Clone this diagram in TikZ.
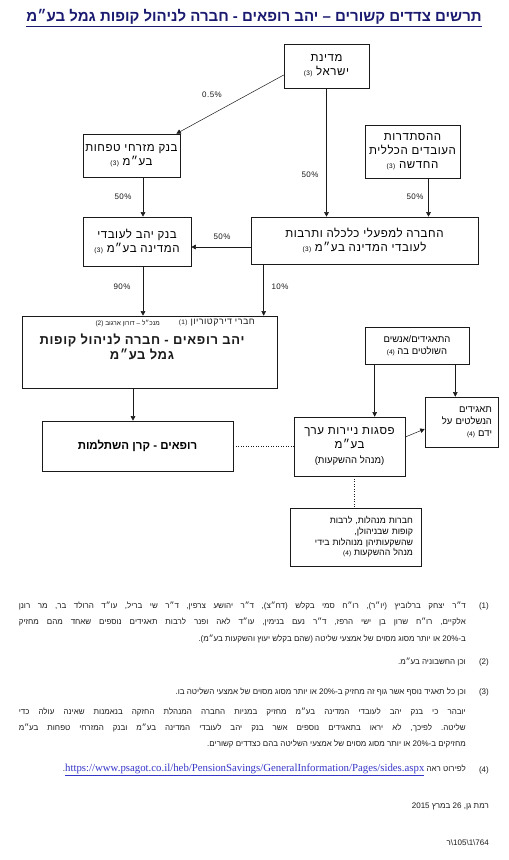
\documentclass[tikz,border=0pt]{standalone}
\usepackage{fontspec}
\setmainfont{Liberation Sans}
\newfontfamily\hebfont[Script=Hebrew]{Liberation Sans}
\newfontfamily\hebwide[Script=Hebrew,LetterSpace=5]{Liberation Sans}
\newfontfamily\pctfont[LetterSpace=6]{Liberation Sans}
\newfontfamily\urlfont{Liberation Serif}
\TeXXeTstate=1
\frenchspacing
\usetikzlibrary{arrows.meta,calc}
\definecolor{inkc}{HTML}{1A1A1A}
\definecolor{titlec}{HTML}{1A1A70}
\definecolor{linkc}{HTML}{3535C8}
\newcommand{\hebfam}{\hebfont}
\newcommand{\heb}[1]{{\hebfam\beginR #1\endR}}
\newcommand{\nt}[1]{\beginL{\fontsize{6.5}{7}\selectfont(#1)}\endL}
\tikzset{
  box/.style ={draw=inkc,line width=.6pt,fill=white,inner xsep=1pt,inner ysep=2pt,align=center,
               font=\fontsize{11.5}{14}\selectfont\let\hebfam\hebwide},
  sbox/.style={box,font=\fontsize{9.5}{12}\selectfont\let\hebfam\hebfont},
  ttl/.style ={font=\fontsize{15}{17}\selectfont\bfseries,text=titlec,inner sep=0pt},
  bigt/.style={font=\fontsize{13}{14.5}\selectfont\bfseries\let\hebfam\hebwide,text=inkc,align=center,inner sep=0pt},
  pct/.style ={font=\pctfont\fontsize{8}{9}\selectfont,text=inkc,inner sep=0pt},
  note/.style={font=\fontsize{8}{10}\selectfont\frenchspacing,text=inkc,inner sep=0pt},
  ar/.style  ={-{Triangle[length=4.5pt,width=4.5pt]},draw=inkc,line width=.5pt},
  dotl/.style={draw=inkc,line width=.5pt,dotted},
}

\begin{document}
\begin{tikzpicture}[x=1pt,y=-1pt]
\useasboundingbox (0,0) rectangle (509,860);

\node[ttl] (title) at (254,18)
  {\underline{\heb{תרשים צדדים קשורים – יהב רופאים - חברה לניהול קופות גמל בע״מ}}};

% ---------- holders ----------
\node[box,minimum width=85,minimum height=44] (state) at (326.5,66)
  {\heb{מדינת}\\\heb{ישראל \nt{3}}};
\node[box,minimum width=97,minimum height=43] (mizrahi) at (131.5,155.5)
  {\heb{בנק מזרחי טפחות}\\\heb{בע״מ \nt{3}}};
\node[box,minimum width=95,minimum height=53] (hist) at (412.5,151.5)
  {\heb{ההסתדרות}\\\heb{העובדים הכללית}\\\heb{החדשה \nt{3}}};
\node[box,minimum width=108,minimum height=49] (yahavbank) at (137,241.5)
  {\heb{בנק יהב לעובדי}\\\heb{המדינה בע״מ \nt{3}}};
\node[box,minimum width=227,minimum height=47] (chevra) at (364.5,240.5)
  {\heb{החברה למפעלי כלכלה ותרבות}\\\heb{לעובדי המדינה בע״מ \nt{3}}};

% ---------- the company ----------
\node[box,minimum width=255,minimum height=72] (main) at (149.5,352) {};
\node[note,anchor=north east,font=\fontsize{9}{10}\selectfont\let\hebfam\hebwide] (dirs) at (255,319)
  {\heb{חברי דירקטוריון \nt{1}}};
\node[note,anchor=north east,font=\fontsize{6.5}{8}\selectfont] (ceo) at (160,320)
  {\heb{מנכ״ל – דורון ארגוב \nt{2}}};
\node[bigt] (mainname) at (142,347)
  {\heb{יהב רופאים - חברה לניהול קופות}\\\heb{גמל בע״מ}};
\node[box,minimum width=191,minimum height=50,font=\fontsize{11.5}{13}\selectfont\bfseries] (keren) at (137.5,446)
  {\heb{רופאים - קרן השתלמות}};

% ---------- investment manager ----------
\node[box,minimum width=111,minimum height=59] (psagot) at (349.5,446.5)
  {\heb{פסגות ניירות ערך}\\\heb{בע״מ}\\[1pt]{\fontsize{9.5}{11}\selectfont\let\hebfam\hebfont\heb{(מנהל ההשקעות)}}};
\node[sbox,minimum width=104,minimum height=37] (controllers) at (417,345.5)
  {\heb{התאגידים/אנשים}\\\heb{השולטים בה \nt{4}}};
\node[sbox,minimum width=73,minimum height=50,align=right,inner xsep=6pt,text width=61] (controlled) at (461.5,422)
  {\heb{תאגידים}\\\heb{הנשלטים על}\\\heb{ידם \nt{4}}};
\node[sbox,minimum width=131,minimum height=58,align=right,inner xsep=8pt,text width=115,font=\fontsize{8.8}{10.7}\selectfont\let\hebfam\hebfont] (mgmt) at (355.5,537)
  {\heb{חברות מנהלות, לרבות}\\\heb{קופות שבניהולן,}\\\heb{שהשקעותיהן מנוהלות בידי}\\\heb{מנהל ההשקעות \nt{4}}};

% ---------- holdings ----------
\draw[ar] ([yshift=-9pt]state.west) -- ([xshift=-4pt]mizrahi.north east);
\draw[ar] (state.south) -- (state.south |- chevra.north);
\draw[ar] ([xshift=16pt]hist.south) -- ([xshift=16pt]hist.south |- chevra.north);
\draw[ar] ([xshift=11.5pt]mizrahi.south) -- ([xshift=11.5pt]mizrahi.south |- yahavbank.north);
\draw[ar] ([yshift=-6.5pt]chevra.west) -- ([yshift=-6.5pt]chevra.west -| yahavbank.east);
\draw[ar] ([xshift=6pt]yahavbank.south) -- ([xshift=6pt]yahavbank.south |- main.north);
\draw[ar] ([xshift=13pt]chevra.south west) -- ([xshift=13pt]chevra.south west |- main.north);
\draw[ar] ([xshift=-16.5pt]main.south) -- ([xshift=-16.5pt]main.south |- keren.north);
\draw[dotl] (keren.east) -- (keren.east -| psagot.west);
\draw[ar] ([xshift=10pt]controllers.south west) -- ([xshift=10pt]controllers.south west |- psagot.north);
\draw[ar] ([xshift=-14pt]controllers.south east) -- ([xshift=-14pt]controllers.south east |- controlled.north);
\draw[ar] ([yshift=9.5pt]psagot.east) -- ([yshift=-7pt]controlled.west);
\draw[dotl] ([xshift=4.5pt]psagot.south) -- ([xshift=4.5pt]psagot.south |- mgmt.north);

\node[pct] (p1) at (212,95)  {0.5\%};
\node[pct] (p2) at (310,175) {50\%};
\node[pct] (p3) at (415,197) {50\%};
\node[pct] (p4) at (123,197) {50\%};
\node[pct] (p5) at (222,237) {50\%};
\node[pct] (p6) at (122,287) {90\%};
\node[pct] (p7) at (280,287) {10\%};

% ---------- notes ----------
\node[note,anchor=east] (n1) at (489,606) {(1)};
\node[note,anchor=east] (f1a) at (466,606)
  {\makebox[447pt][s]{\heb{ד״ר יצחק ברלוביץ (יו״ר), רו״ח סמי בקלש (דח״צ), ד״ר יהושע צרפין, ד״ר שי בריל, עו״ד הרולד בר, מר רונן}}};
\node[note,anchor=east] (f1b) at (466,622)
  {\makebox[447pt][s]{\heb{אלקיים, רו״ח שרון בן ישי הרפז, ד״ר נעם בנימין, עו״ד לאה ופנר לרבות תאגידים נוספים שאחד מהם מחזיק}}};
\node[note,anchor=east] (f1c) at (466,639)
  {\heb{ב-20\% או יותר מסוג מסוים של אמצעי שליטה (שהם בקלש יעוץ והשקעות בע״מ).}};
\node[note,anchor=east] (n2) at (489,662) {(2)};
\node[note,anchor=east] (f2) at (466,662) {\heb{וכן החשבוניה בע״מ.}};
\node[note,anchor=east] (n3) at (489,692) {(3)};
\node[note,anchor=east] (f3) at (466,692)
  {\heb{וכן כל תאגיד נוסף אשר גוף זה מחזיק ב-20\% או יותר מסוג מסוים של אמצעי השליטה בו.}};
\node[note,anchor=east] (pa) at (466,712)
  {\makebox[447pt][s]{\heb{יובהר כי בנק יהב לעובדי המדינה בע״מ מחזיק במניות החברה המנהלת החזקה בנאמנות שאינה עולה כדי}}};
\node[note,anchor=east] (pb) at (466,728)
  {\makebox[447pt][s]{\heb{שליטה. לפיכך, לא יראו בתאגידים נוספים אשר בנק יהב לעובדי המדינה בע״מ ובנק המזרחי טפחות בע״מ}}};
\node[note,anchor=east] (pc) at (466,744)
  {\heb{מחזיקים ב-20\% או יותר מסוג מסוים של אמצעי השליטה בהם כצדדים קשורים.}};
\node[note,anchor=east] (n4) at (489,770) {(4)};
\node[note,anchor=east] (f4) at (466,770)
  {\heb{לפירוט ראה \beginL{\urlfont\fontsize{10.8}{12}\selectfont\textcolor{linkc}{\underline{https://www.psagot.co.il/heb/PensionSavings/GeneralInformation/Pages/sides.aspx}}}\endL.}};
\node[note,anchor=east] (date) at (489,806) {\heb{רמת גן, 26 במרץ 2015}};
\node[note,anchor=east] (ref) at (489,843) {\hebfont 764\textbackslash 1\textbackslash 105\textbackslash ר};
\end{tikzpicture}
\end{document}
